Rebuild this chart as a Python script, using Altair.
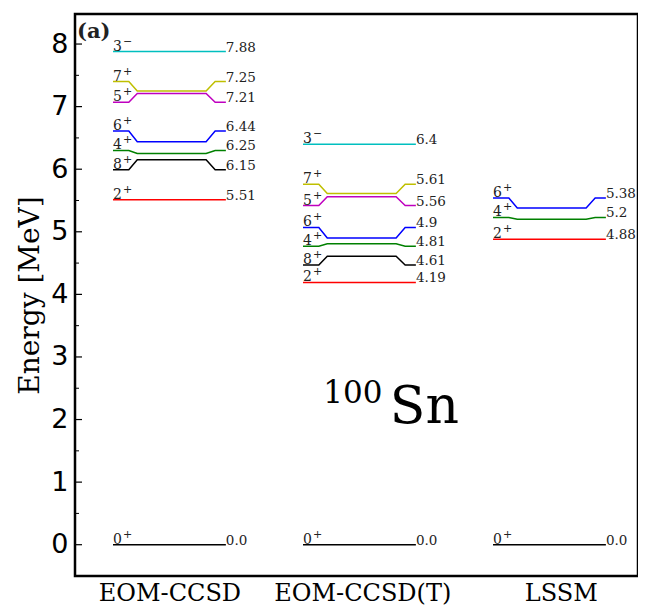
import altair as alt
import pandas as pd

# ---- data ----
methods = ["EOM-CCSD", "EOM-CCSD(T)", "LSSM"]

ccsd_spins = ["0", "2", "8", "4", "6", "5", "7", "3"]
ccsd_parity = ["+", "+", "+", "+", "+", "+", "+", "−"]
ccsd_energy = [0.0, 5.51, 6.15, 6.25, 6.44, 7.21, 7.25, 7.88]
ccsd_labelpos = [0.0, 5.51, 5.99, 6.30, 6.61, 7.07, 7.40, 7.88]
ccsd_text = ["0.0", "5.51", "6.15", "6.25", "6.44", "7.21", "7.25", "7.88"]

ccsdt_spins = ["0", "2", "8", "4", "6", "5", "7", "3"]
ccsdt_parity = ["+", "+", "+", "+", "+", "+", "+", "−"]
ccsdt_energy = [0.0, 4.19, 4.61, 4.81, 4.9, 5.56, 5.61, 6.4]
ccsdt_labelpos = [0.0, 4.19, 4.47, 4.77, 5.07, 5.42, 5.76, 6.4]
ccsdt_text = ["0.0", "4.19", "4.61", "4.81", "4.9", "5.56", "5.61", "6.4"]

lssm_spins = ["0", "2", "4", "6"]
lssm_parity = ["+", "+", "+", "+"]
lssm_energy = [0.0, 4.88, 5.2, 5.38]
lssm_labelpos = [0.0, 4.88, 5.23, 5.54]
lssm_text = ["0.0", "4.88", "5.2", "5.38"]

spin_colors = {"0+": "#000000", "2+": "#ff0000", "8+": "#000000", "4+": "#008000",
               "6+": "#0000ff", "5+": "#bf00bf", "7+": "#bfbf00", "3−": "#00bfbf"}

major_ticks = [0, 1, 2, 3, 4, 5, 6, 7, 8]
minor_ticks = [0.5, 1.5, 2.5, 3.5, 4.5, 5.5, 6.5, 7.5]
category_pos = [0, 1.015, 2.06]

# ---- geometry of a level (fractions of the level width) ----
half_w = 0.297
frac = [0.0, 0.14, 0.215, 0.825, 0.905, 1.0]

sets = [
    (ccsd_spins, ccsd_parity, ccsd_energy, ccsd_labelpos, ccsd_text),
    (ccsdt_spins, ccsdt_parity, ccsdt_energy, ccsdt_labelpos, ccsdt_text),
    (lssm_spins, lssm_parity, lssm_energy, lssm_labelpos, lssm_text),
]

line_rows, spin_rows, val_rows = [], [], []
for i, (spins, par, en, lp, tx) in enumerate(sets):
    x0 = i - half_w
    for j, (s, p, e, l, t) in enumerate(zip(spins, par, en, lp, tx)):
        ys = [l, l, e, e, l, l]
        key = f"{i}-{j}"
        for k, (f, yv) in enumerate(zip(frac, ys)):
            line_rows.append({"key": key, "ord": k, "x": x0 + f * 2 * half_w,
                              "y": yv, "color": spin_colors[s + p]})
        spin_rows.append({"x": x0, "y": l, "label": s, "par": p})
        val_rows.append({"x": i + half_w, "y": l, "label": t})

lines_df = pd.DataFrame(line_rows)
spin_df = pd.DataFrame(spin_rows)
val_df = pd.DataFrame(val_rows)

xscale = alt.Scale(domain=[-0.497, 2.466], nice=False, zero=False)
yscale = alt.Scale(domain=[-0.5, 8.48], nice=False, zero=False)

label_expr = "datum.value < 0.5 ? 'EOM-CCSD' : (datum.value < 1.5 ? 'EOM-CCSD(T)' : 'LSSM')"

xenc = alt.X("x:Q", scale=xscale, title="",
             axis=alt.Axis(values=category_pos, labelExpr=label_expr, grid=False,
                           domain=False, ticks=False, labelPadding=5, labelLimit=400,
                           labelFont="DejaVu Serif", labelFontSize=24,
                           labelColor="black", labelFontWeight="normal"))
yenc = alt.Y("y:Q", scale=yscale, title="Energy [MeV]",
             axis=alt.Axis(values=major_ticks, format="d", grid=False, domain=False,
                           ticks=False, labelPadding=7, labelFont="DejaVu Sans",
                           labelFontSize=27, labelColor="black",
                           titleFont="DejaVu Serif", titleFontSize=28,
                           titleFontWeight="normal", titleColor="black",
                           titlePadding=6))

lines = alt.Chart(lines_df).mark_line(strokeWidth=1.5).encode(
    x=xenc, y=yenc, detail="key:N", order="ord:Q",
    color=alt.Color("color:N", scale=None))

spin_text = alt.Chart(spin_df).mark_text(
    align="left", baseline="alphabetic", dy=-1, font="DejaVu Serif", fontSize=14,
    color="#222222").encode(
    x=alt.X("x:Q", scale=xscale), y=alt.Y("y:Q", scale=yscale), text="label:N")

par_text = alt.Chart(spin_df).mark_text(
    align="left", baseline="alphabetic", dx=10, dy=-7, font="DejaVu Serif", fontSize=11,
    color="#222222").encode(
    x=alt.X("x:Q", scale=xscale), y=alt.Y("y:Q", scale=yscale), text="par:N")

val_text = alt.Chart(val_df).mark_text(
    align="left", baseline="alphabetic", dy=0, font="DejaVu Serif", fontSize=13.5,
    color="#222222").encode(
    x=alt.X("x:Q", scale=xscale), y=alt.Y("y:Q", scale=yscale), text="label:N")

major_df = pd.DataFrame({"t": major_ticks})
minor_df = pd.DataFrame({"t": minor_ticks})
major_rules = alt.Chart(major_df).mark_rule(color="black", strokeWidth=1.2).encode(
    y=alt.Y("t:Q", scale=yscale), x=alt.value(0), x2=alt.value(7))
minor_rules = alt.Chart(minor_df).mark_rule(color="black", strokeWidth=1).encode(
    y=alt.Y("t:Q", scale=yscale), x=alt.value(0), x2=alt.value(4))

ann_df = pd.DataFrame({"x": [0.81], "y": [2.26], "t": ["100"]})
sn_df = pd.DataFrame({"x": [1.16], "y": [1.945], "t": ["Sn"]})
sup = alt.Chart(ann_df).mark_text(align="left", baseline="alphabetic",
                                  font="DejaVu Serif", fontSize=31, color="black").encode(
    x=alt.X("x:Q", scale=xscale), y=alt.Y("y:Q", scale=yscale), text="t:N")
sn = alt.Chart(sn_df).mark_text(align="left", baseline="alphabetic",
                                font="DejaVu Serif", fontSize=52, color="black").encode(
    x=alt.X("x:Q", scale=xscale), y=alt.Y("y:Q", scale=yscale), text="t:N")

panel = alt.Chart(pd.DataFrame({"t": ["(a)"]})).mark_text(
    align="left", baseline="alphabetic", font="DejaVu Serif", fontSize=21,
    fontWeight="bold", color="#222222").encode(
    x=alt.value(2), y=alt.value(24), text="t:N")

chart = alt.layer(lines, spin_text, par_text, val_text, major_rules, minor_rules,
                  sup, sn, panel).properties(
    width=563, height=562,
    padding={"left": 67, "top": 6, "right": 0, "bottom": 31},
    autosize=alt.AutoSizeParams(type="none"),
).configure(
    background="white",
    view=alt.ViewConfig(stroke="black", strokeWidth=2.5),
)

chart.save("out.html", embed_options={"renderer": "svg", "actions": False})
